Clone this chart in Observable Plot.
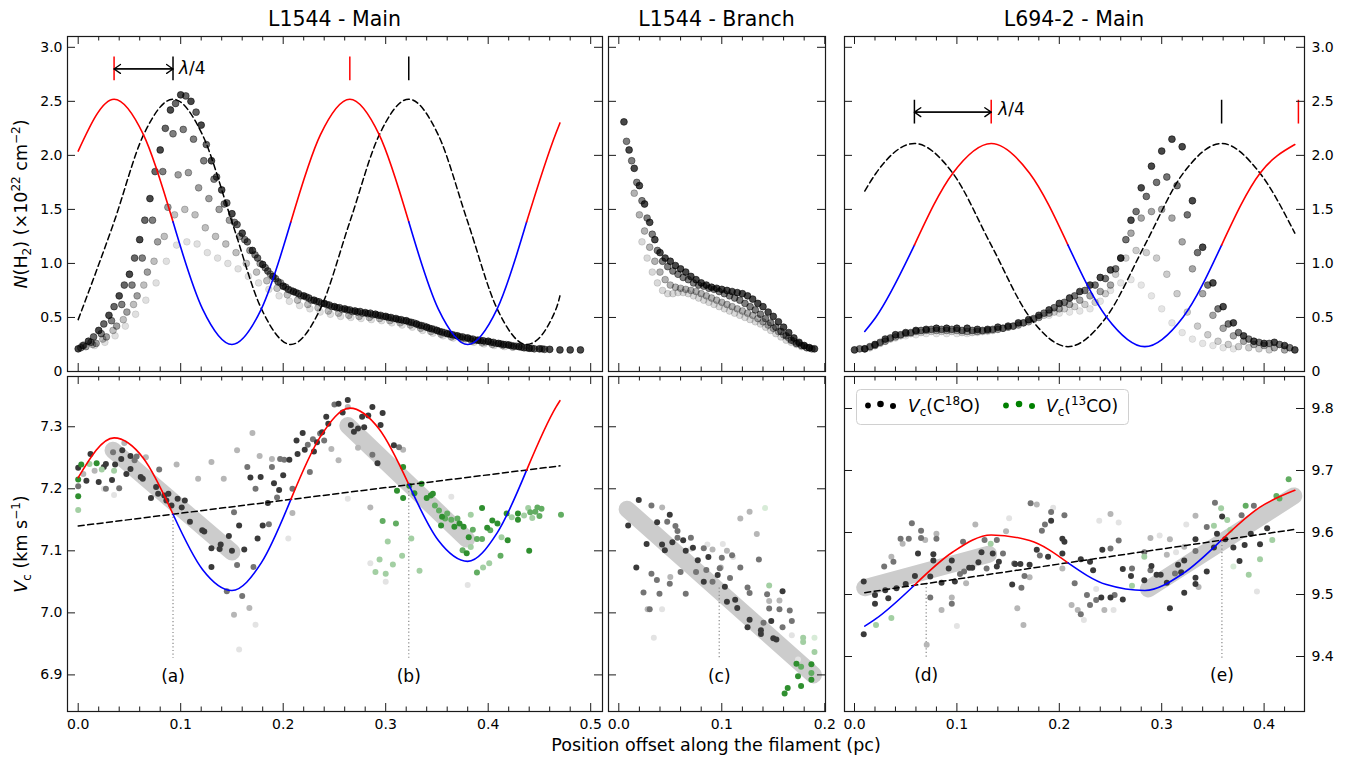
<!DOCTYPE html>
<html><head><meta charset="utf-8">
<script src="https://cdn.jsdelivr.net/npm/d3@7"></script>
<script src="https://cdn.jsdelivr.net/npm/@observablehq/plot@0.6"></script>
<style>
body{margin:0;background:#fff}
#fig{position:relative;width:1359px;height:758px;font-family:"DejaVu Sans",sans-serif;overflow:hidden;background:#fff}
</style></head><body><div id="fig"></div>
<script>
// ---------------- DATA ----------------
const titles = ["L1544 - Main", "L1544 - Branch", "L694-2 - Main"];
const xMaj1 = [0, 0.1, 0.2, 0.3, 0.4, 0.5];
const xMaj2 = [0, 0.1, 0.2];
const xMaj3 = [0, 0.1, 0.2, 0.3, 0.4];
const yMajTop = [0, 0.5, 1.0, 1.5, 2.0, 2.5, 3.0];
const yMajB12 = [6.9, 7.0, 7.1, 7.2, 7.3];
const yMajB3 = [9.4, 9.5, 9.6, 9.7, 9.8];

// N(H2) profiles
const n1a = [0.21,0.28,0.38,0.52,0.70,0.90,1.22,1.60,2.05,2.42,2.56,2.50,2.28,1.95,1.68,1.46,1.28,1.12,0.99,0.88,0.79,0.74,0.70,0.66,0.63,0.60,0.58,0.56,0.545,0.53,0.51,0.49,0.47,0.44,0.41,0.38,0.35,0.33,0.31,0.29,0.28,0.26,0.245,0.23,0.215,0.21,0.205,0.20,0.20,0.20];
const n1b = [0.24,0.32,0.44,0.60,0.80,1.05,1.40,1.85,2.25,2.48,2.55,2.40,2.10,1.80,1.56,1.36,1.20,1.05,0.93,0.83,0.76,0.72,0.68,0.645,0.615,0.59,0.57,0.555,0.54,0.52,0.50,0.48,0.455,0.425,0.395,0.365,0.34,0.32,0.30,0.285,0.27,0.25,0.235,0.22,0.21,0.205];
const n1c = [0.22,0.27,0.35,0.47,0.62,0.80,1.05,1.40,1.85,2.20,2.24,2.15,1.95,1.78,1.55,1.38,1.22,1.08,0.96,0.86,0.78,0.73,0.69,0.65,0.62,0.59,0.57,0.55,0.535,0.52,0.50,0.48,0.46,0.43,0.40,0.37,0.345,0.32,0.30,0.285,0.27,0.255,0.24,0.225,0.215,0.21];
const n1d = [0.23,0.26,0.32,0.42,0.55,0.70,0.92,1.20,1.52,1.82,1.84,1.70,1.60,1.50,1.40,1.25,1.12,1.00,0.90,0.82,0.75,0.70,0.66,0.63,0.60,0.575,0.555,0.54,0.525,0.51,0.49,0.47,0.45,0.42,0.39,0.36,0.335,0.31,0.29,0.275,0.26,0.25,0.235,0.22];
const n1e = [0.24,0.25,0.30,0.38,0.48,0.62,0.80,1.02,1.25,1.45,1.50,1.45,1.33,1.25,1.18,1.10,1.00,0.92,0.84,0.77,0.71,0.66,0.62,0.59,0.56,0.54,0.52,0.51,0.50,0.49,0.47,0.45,0.43,0.40,0.37,0.345,0.32,0.30,0.28,0.265,0.25,0.24,0.225];
const n1f = [0.25,0.24,0.27,0.33,0.42,0.53,0.66,0.82,1.02,1.17,1.20,1.18,1.10,1.05,1.00,0.95,0.88,0.82,0.76,0.70,0.65,0.61,0.58,0.55,0.53,0.51,0.50,0.49,0.48,0.47,0.45,0.43,0.41,0.38,0.355,0.33,0.31,0.29,0.27,0.255,0.24,0.23];

const n2a = [2.31,2.05,1.88,1.72,1.55,1.38,1.22,1.10,1.05,1.02,0.98,0.95,0.92,0.88,0.85,0.82,0.80,0.78,0.77,0.76,0.75,0.74,0.73,0.72,0.70,0.67,0.63,0.60,0.55,0.51,0.46,0.41,0.36,0.31,0.27,0.24,0.22,0.21];
const n2b = [2.13,1.95,1.75,1.58,1.42,1.27,1.12,1.02,0.97,0.93,0.90,0.87,0.85,0.82,0.80,0.79,0.77,0.76,0.74,0.72,0.70,0.68,0.66,0.63,0.60,0.57,0.53,0.49,0.45,0.41,0.37,0.33,0.29,0.26,0.24,0.22,0.21];
const n2c = [1.65,1.45,1.30,1.15,1.02,0.92,0.85,0.80,0.78,0.77,0.76,0.75,0.74,0.72,0.70,0.68,0.66,0.64,0.62,0.60,0.58,0.56,0.54,0.52,0.49,0.46,0.43,0.40,0.37,0.34,0.31,0.28,0.26,0.24,0.22];
const n2d = [1.20,1.05,0.92,0.82,0.75,0.72,0.72,0.73,0.73,0.72,0.70,0.68,0.66,0.64,0.62,0.60,0.58,0.56,0.54,0.52,0.50,0.48,0.46,0.44,0.41,0.38,0.35,0.32,0.29,0.27,0.25,0.23];

const n3a = [0.20,0.21,0.25,0.30,0.34,0.36,0.38,0.39,0.40,0.40,0.40,0.40,0.39,0.39,0.41,0.42,0.45,0.48,0.52,0.57,0.63,0.68,0.74,0.80,0.87,0.94,1.05,1.40,1.70,1.90,2.04,2.15,2.08,1.58,1.15,0.82,0.60,0.45,0.33,0.28,0.26,0.27,0.24,0.20];
const n3b = [0.21,0.23,0.27,0.31,0.34,0.36,0.38,0.39,0.39,0.39,0.38,0.38,0.38,0.39,0.40,0.42,0.45,0.49,0.54,0.59,0.64,0.70,0.75,0.80,0.86,0.95,1.22,1.48,1.62,1.75,1.80,1.72,1.45,1.10,0.80,0.58,0.44,0.36,0.30,0.27,0.26,0.25,0.22];
const n3c = [0.21,0.24,0.28,0.32,0.35,0.37,0.38,0.38,0.38,0.38,0.37,0.37,0.38,0.39,0.41,0.43,0.46,0.50,0.54,0.58,0.62,0.66,0.70,0.74,0.80,1.05,1.28,1.42,1.48,1.50,1.42,1.20,0.95,0.72,0.52,0.40,0.33,0.28,0.25,0.24,0.22,0.20];
const n3d = [0.22,0.26,0.30,0.33,0.35,0.36,0.37,0.37,0.37,0.36,0.36,0.37,0.38,0.40,0.42,0.45,0.48,0.52,0.55,0.58,0.60,0.62,0.64,0.72,0.90,1.05,1.12,1.10,1.05,0.90,0.72,0.55,0.42,0.34,0.28,0.25,0.23,0.22,0.21,0.20];
const n3e = [0.24,0.28,0.31,0.33,0.34,0.35,0.35,0.35,0.35,0.35,0.36,0.37,0.39,0.41,0.44,0.47,0.50,0.52,0.54,0.55,0.56,0.58,0.65,0.75,0.82,0.85,0.80,0.70,0.58,0.45,0.36,0.30,0.26,0.24,0.22,0.21];

// profile sampling: [values, x start, x step, opacity]
const prof1 = [[n1f,0.006,0.01,0.12],[n1e,0.004,0.01,0.25],[n1d,0.0075,0.01,0.38],[n1c,0.0025,0.01,0.5],[n1b,0.005,0.01,0.6],[n1a,0,0.01,0.72]];
const prof2 = [[n2d,0.0225,0.005,0.15],[n2c,0.015,0.005,0.3],[n2b,0.0075,0.005,0.5],[n2a,0.005,0.005,0.72]];
const prof3 = [[n3e,0.02,0.01,0.1],[n3d,0.015,0.01,0.2],[n3c,0.01,0.01,0.35],[n3b,0.005,0.01,0.55],[n3a,0,0.01,0.72]];

// sinusoid fits
const sx1 = [0,0.035,0.06375,0.0925,0.12125,0.15,0.17875,0.2075,0.23625,0.265,0.29375,0.3225,0.35125,0.38,0.40875,0.4375,0.46625,0.47];
const nRed1 = [2.04,2.52,2.19,1.385,0.58,0.25,0.58,1.385,2.19,2.52,2.19,1.385,0.58,0.25,0.58,1.385,2.21,2.30];
const nDash1 = [0.48,1.385,2.19,2.52,2.19,1.385,0.58,0.25,0.58,1.385,2.19,2.52,2.19,1.385,0.58,0.25,0.58,0.70];
const vSin1 = [7.218,7.282,7.249,7.159,7.070,7.036,7.081,7.183,7.284,7.330,7.296,7.207,7.117,7.083,7.129,7.230,7.332,7.342];
const cuts1 = [0.0925,0.2075,0.3225,0.4375];
const segCol1 = ["red","blue","red","blue","red"];
const trendX1 = [0, 0.47], trendV1 = [7.14, 7.237];

const sx3 = [0.01,0.021,0.0585,0.096,0.1335,0.171,0.2085,0.246,0.2835,0.321,0.3585,0.396,0.43];
const nRed3 = [0.371,0.505,1.17,1.835,2.11,1.835,1.17,0.505,0.23,0.505,1.17,1.835,2.10];
const nDash3 = [1.67,1.835,2.11,1.835,1.17,0.505,0.23,0.505,1.17,1.835,2.11,1.835,1.28];
const vSin3 = [9.449,9.461,9.515,9.5685,9.596,9.587,9.551,9.516,9.5065,9.534,9.588,9.641,9.668];
const cuts3 = [0.0585,0.2085,0.3585];
const segCol3 = ["blue","red","blue","red"];
const trendX3 = [0.01, 0.43], trendV3 = [9.503, 9.605];

// lambda/4 markers
const mk1 = [{x:0.035,y1:2.69,y2:2.91,c:"red"},{x:0.0925,y1:2.69,y2:2.91,c:"black"},{x:0.265,y1:2.69,y2:2.91,c:"red"},{x:0.3225,y1:2.69,y2:2.91,c:"black"}];
const arr1 = [{x1:0.035,x2:0.0925,y:2.80}];
const lam1 = [{x:0.0925,y:2.80,t:"λ/4"}];
const mk3 = [{x:0.0585,y1:2.29,y2:2.51,c:"black"},{x:0.1335,y1:2.29,y2:2.51,c:"red"},{x:0.3585,y1:2.29,y2:2.51,c:"black"},{x:0.4335,y1:2.29,y2:2.51,c:"red"}];
const arr3 = [{x1:0.0585,x2:0.1335,y:2.40}];
const lam3 = [{x:0.1335,y:2.42,t:"λ/4"}];

// velocity points [x, Vc, shade 1=dark..4=very light]
const vc1 = [[0,7.234,1],[0,7.204,2],[0.005,7.224,3],[0.008,7.213,1],[0.012,7.256,1],[0.016,7.229,3],[0.020,7.211,1],[0.025,7.235,1],[0.027,7.240,1],[0.027,7.200,2],[0.033,7.214,1],[0.036,7.239,1],[0.034,7.259,2],[0.040,7.201,2],[0.043,7.262,1],[0.042,7.248,1],[0.045,7.274,3],[0.047,7.224,1],[0.051,7.232,1],[0.051,7.253,1],[0.055,7.246,2],[0.057,7.252,2],[0.061,7.219,1],[0.063,7.216,1],[0.066,7.251,3],[0.071,7.185,1],[0.076,7.203,1],[0.079,7.231,2],[0.078,7.192,1],[0.084,7.189,1],[0.088,7.192,1],[0.086,7.181,1],[0.091,7.173,1],[0.097,7.184,1],[0.096,7.239,3],[0.101,7.170,1],[0.104,7.181,1],[0.109,7.147,1],[0.117,7.216,3],[0.121,7.133,1],[0.123,7.131,1],[0.130,7.243,3],[0.130,7.104,1],[0.130,7.074,1],[0.138,7.103,1],[0.139,7.110,1],[0.142,7.216,3],[0.147,7.124,1],[0.150,7.100,1],[0.152,7.162,2],[0.155,7.262,3],[0.157,7.141,1],[0.155,7.077,2],[0.145,7.035,2],[0.152,6.997,3],[0.160,7.027,2],[0.162,7.102,1],[0.157,6.941,4],[0.167,7.008,3],[0.165,7.235,2],[0.168,7.218,1],[0.170,7.290,3],[0.173,7.200,2],[0.171,7.074,2],[0.173,6.981,4],[0.175,7.120,1],[0.178,7.219,1],[0.177,7.253,3],[0.180,7.141,1],[0.185,7.177,1],[0.186,7.143,2],[0.189,7.235,2],[0.191,7.209,1],[0.189,7.248,3],[0.194,7.186,2],[0.196,7.198,1],[0.197,7.248,2],[0.200,7.222,1],[0.201,7.247,2],[0.206,7.247,1],[0.209,7.161,3],[0.209,7.200,2],[0.213,7.278,1],[0.214,7.256,1],[0.219,7.290,1],[0.221,7.263,1],[0.224,7.271,2],[0.226,7.227,2],[0.229,7.280,2],[0.230,7.260,1],[0.233,7.275,1],[0.236,7.289,2],[0.238,7.291,1],[0.240,7.278,2],[0.242,7.316,1],[0.244,7.305,1],[0.247,7.264,3],[0.250,7.336,2],[0.254,7.337,1],[0.254,7.246,3],[0.258,7.323,1],[0.263,7.332,3],[0.263,7.343,1],[0.263,7.184,4],[0.266,7.303,1],[0.269,7.292,1],[0.273,7.297,1],[0.273,7.266,3],[0.277,7.316,1],[0.279,7.299,1],[0.283,7.318,1],[0.287,7.332,1],[0.285,7.170,3],[0.287,7.255,2],[0.292,7.241,1],[0.295,7.303,1],[0.297,7.322,1],[0.308,7.270,1],[0.313,7.267,2],[0.317,7.263,3],[0.364,7.187,4],[0.380,7.045,4],[0.285,7.080,4],[0.300,7.050,4],[0.205,7.120,4],[0.025,7.200,4],[0.035,7.190,4]];
const co1 = [[0,7.215,1],[0,7.188,1],[0,7.166,3],[0.003,7.239,1],[0.011,7.240,3],[0.018,7.241,1],[0.023,7.231,3],[0.035,7.229,3],[0.317,7.235,1],[0.311,7.197,1],[0.317,7.185,1],[0.323,7.205,1],[0.328,7.193,1],[0.335,7.208,1],[0.340,7.185,1],[0.344,7.189,1],[0.346,7.192,1],[0.297,7.148,2],[0.310,7.144,2],[0.302,7.115,3],[0.325,7.120,3],[0.316,7.092,3],[0.294,7.086,3],[0.307,7.078,3],[0.290,7.066,3],[0.300,7.063,3],[0.333,7.068,3],[0.348,7.173,2],[0.352,7.165,2],[0.354,7.141,1],[0.358,7.152,2],[0.364,7.150,2],[0.367,7.139,1],[0.370,7.152,2],[0.372,7.144,1],[0.376,7.139,1],[0.381,7.122,1],[0.383,7.158,3],[0.385,7.134,2],[0.379,7.096,1],[0.375,7.101,2],[0.383,7.106,3],[0.389,7.119,2],[0.394,7.119,2],[0.394,7.169,1],[0.399,7.137,1],[0.402,7.133,2],[0.404,7.149,1],[0.409,7.144,1],[0.413,7.122,3],[0.419,7.117,1],[0.412,7.092,2],[0.395,7.073,3],[0.401,7.080,3],[0.389,7.065,2],[0.418,7.160,1],[0.423,7.154,3],[0.429,7.160,1],[0.429,7.150,1],[0.435,7.157,3],[0.439,7.169,3],[0.441,7.162,2],[0.448,7.170,2],[0.446,7.163,2],[0.450,7.156,2],[0.452,7.168,2],[0.440,7.100,1],[0.471,7.158,2],[0.443,7.153,3],[0.360,7.160,2],[0.355,7.155,1]];

const vc2 = [[0.0194,7.182,1],[0.0091,7.141,1],[0.0317,7.173,2],[0.0421,7.170,3],[0.0372,7.146,1],[0.0495,7.158,1],[0.047,7.147,2],[0.055,7.140,2],[0.057,7.132,2],[0.052,7.114,1],[0.042,7.110,1],[0.0447,7.101,1],[0.027,7.111,1],[0.057,7.121,2],[0.0625,7.117,1],[0.065,7.100,1],[0.070,7.121,2],[0.072,7.105,1],[0.0767,7.085,1],[0.0825,7.104,2],[0.087,7.090,1],[0.091,7.102,3],[0.100,7.089,2],[0.105,7.100,3],[0.110,7.093,2],[0.017,7.073,1],[0.0317,7.063,2],[0.037,7.053,2],[0.024,7.033,2],[0.030,7.006,2],[0.0395,7.031,2],[0.0495,7.047,2],[0.060,7.066,2],[0.065,7.031,2],[0.075,7.066,2],[0.085,7.069,2],[0.0825,7.050,1],[0.091,7.050,2],[0.096,7.061,1],[0.098,7.072,2],[0.103,7.042,1],[0.108,7.056,2],[0.105,7.018,1],[0.113,7.021,1],[0.115,7.008,1],[0.118,7.073,2],[0.125,7.041,2],[0.127,7.032,2],[0.127,6.989,1],[0.125,6.977,1],[0.138,6.972,1],[0.138,6.966,1],[0.1405,6.984,2],[0.136,7.086,2],[0.144,7.030,2],[0.146,7.007,2],[0.148,6.987,1],[0.150,6.959,1],[0.153,6.957,1],[0.159,7.035,1],[0.156,7.006,2],[0.159,6.977,2],[0.166,7.004,2],[0.168,6.987,2],[0.134,7.127,3],[0.127,7.163,3],[0.118,7.152,3],[0.146,7.019,3],[0.156,7.020,3],[0.168,6.964,4],[0.050,7.058,3],[0.099,7.073,3],[0.111,7.090,4],[0.034,6.960,4],[0.028,7.006,3],[0.042,7.006,4],[0.086,7.110,4],[0.101,7.111,4],[0.070,7.103,4],[0.174,6.925,4]];
const co2 = [[0.1725,6.918,1],[0.177,6.913,2],[0.187,6.917,1],[0.174,6.898,1],[0.187,6.903,2],[0.187,6.892,1],[0.177,6.882,1],[0.164,6.879,1],[0.161,6.870,1],[0.179,6.960,3],[0.190,6.960,4],[0.190,6.937,3],[0.179,6.953,3],[0.146,7.044,3],[0.142,7.169,4]];

const vc3 = [[0.009,9.521,1],[0.009,9.436,1],[0.020,9.499,1],[0.020,9.485,1],[0.030,9.507,1],[0.033,9.494,1],[0.029,9.545,2],[0.036,9.561,3],[0.038,9.553,2],[0.041,9.510,1],[0.045,9.590,2],[0.047,9.582,3],[0.050,9.517,1],[0.053,9.590,2],[0.056,9.615,2],[0.059,9.530,1],[0.062,9.566,1],[0.065,9.603,2],[0.065,9.591,2],[0.069,9.588,3],[0.0705,9.419,3],[0.074,9.529,1],[0.074,9.495,2],[0.077,9.565,1],[0.077,9.555,1],[0.080,9.590,2],[0.080,9.598,3],[0.085,9.475,3],[0.085,9.519,1],[0.092,9.542,1],[0.095,9.555,1],[0.095,9.485,2],[0.095,9.495,3],[0.098,9.521,1],[0.100,9.449,4],[0.103,9.533,2],[0.106,9.585,2],[0.107,9.537,2],[0.109,9.518,3],[0.112,9.543,1],[0.115,9.543,1],[0.118,9.613,3],[0.121,9.552,1],[0.124,9.568,1],[0.127,9.588,2],[0.129,9.542,2],[0.135,9.566,1],[0.139,9.588,2],[0.139,9.545,1],[0.141,9.553,1],[0.145,9.566,2],[0.148,9.602,3],[0.151,9.623,4],[0.154,9.516,1],[0.156,9.550,2],[0.157,9.549,1],[0.159,9.478,3],[0.162,9.549,1],[0.163,9.511,2],[0.165,9.451,3],[0.166,9.530,2],[0.171,9.548,1],[0.171,9.528,3],[0.172,9.647,2],[0.178,9.645,3],[0.178,9.572,1],[0.181,9.563,2],[0.183,9.603,2],[0.186,9.613,2],[0.189,9.561,1],[0.192,9.633,2],[0.192,9.619,1],[0.194,9.640,4],[0.203,9.590,1],[0.203,9.542,3],[0.205,9.628,2],[0.205,9.585,1],[0.203,9.566,1],[0.212,9.483,3],[0.215,9.518,2],[0.218,9.475,3],[0.221,9.468,2],[0.221,9.557,1],[0.224,9.459,4],[0.227,9.499,2],[0.230,9.553,1],[0.230,9.483,2],[0.233,9.539,1],[0.236,9.491,2],[0.236,9.509,4],[0.239,9.619,4],[0.241,9.495,1],[0.242,9.572,1],[0.244,9.475,3],[0.250,9.630,3],[0.250,9.574,2],[0.250,9.495,1],[0.253,9.475,4],[0.254,9.499,2],[0.258,9.587,2],[0.258,9.616,4],[0.262,9.492,1],[0.262,9.541,1],[0.270,9.530,1],[0.271,9.542,2],[0.283,9.523,1],[0.283,9.568,2],[0.289,9.591,3],[0.289,9.539,2],[0.290,9.546,1],[0.295,9.532,1],[0.298,9.595,4],[0.299,9.532,1],[0.305,9.519,1],[0.305,9.564,3],[0.308,9.478,1],[0.308,9.589,3],[0.313,9.534,2],[0.314,9.568,4],[0.316,9.548,1],[0.319,9.536,1],[0.322,9.503,1],[0.322,9.555,1],[0.322,9.577,3],[0.324,9.613,4],[0.333,9.517,1],[0.333,9.527,1],[0.333,9.570,2],[0.333,9.589,1],[0.333,9.627,3],[0.336,9.512,3],[0.344,9.537,1],[0.344,9.609,2],[0.351,9.576,1],[0.352,9.648,2],[0.354,9.598,1],[0.359,9.626,1],[0.362,9.589,1],[0.370,9.576,1],[0.376,9.554,1],[0.378,9.628,2],[0.381,9.580,1],[0.387,9.598,1],[0.390,9.643,2],[0.396,9.581,1],[0.393,9.505,4],[0.403,9.607,1]];
const co3 = [[0.021,9.451,3],[0.036,9.462,3],[0.133,9.582,3],[0.271,9.514,3],[0.283,9.561,3],[0.351,9.611,3],[0.358,9.639,3],[0.364,9.620,3],[0.367,9.604,3],[0.370,9.545,4],[0.382,9.643,2],[0.385,9.532,3],[0.396,9.557,3],[0.408,9.588,3],[0.412,9.659,2],[0.415,9.655,2],[0.424,9.686,2]];

// velocity-gradient bands, dotted guides and labels
const band1 = [{x1:0.034,y1:7.262,x2:0.150,y2:7.098},{x1:0.263,y1:7.302,x2:0.379,y2:7.119}];
const band2 = [{x1:0.0081,y1:7.167,x2:0.189,y2:6.900}];
const band3 = [{x1:0.010,y1:9.511,x2:0.131,y2:9.565},{x1:0.287,y1:9.509,x2:0.429,y2:9.659}];
const guide1 = [{x:0.0925,y1:7.160,y2:6.927},{x:0.3225,y1:7.207,y2:6.927}];
const guide2 = [{x:0.0975,y1:7.040,y2:6.925}];
const guide3 = [{x:0.070,y1:9.517,y2:9.397},{x:0.3588,y1:9.585,y2:9.397}];
const lab1 = [{x:0.0925,y:6.898,t:"(a)"},{x:0.3225,y:6.898,t:"(b)"}];
const lab2 = [{x:0.0975,y:6.898,t:"(c)"}];
const lab3 = [{x:0.070,y:9.369,t:"(d)"},{x:0.3588,y:9.369,t:"(e)"}];

// ---------------- DRAWING ----------------
const greyC = {1:"#3a3a3a",2:"#747474",3:"#b6b6b6",4:"#e3e3e3"};
const greenC = {1:"#2f8f2f",2:"#62ad62",3:"#a3cfa3",4:"#d7ebd7"};
const fig = document.getElementById("fig");
const ML = 60, MR = 60, MT = 20, MB = 40;
const TL = 8, tl = 4.5;

function minor(hi){ return d3.range(0, hi + 1e-9, 0.02).filter(v => Math.abs(v*10 - Math.round(v*10)) > 1e-6); }
function profiles(list){ return list.flatMap(([vals,x0,dx,a]) => vals.map((v,i) => ({x: x0 + i*dx, y: v, a}))); }
function pts(arr, pal){ return arr.map(([x,y,s]) => ({x, y, s, c: pal[s]})).sort((p,q) => q.s - p.s); }
function split(xs, ys, cuts, cols){
  const out = [];
  xs.forEach((x,i) => {
    const k = cuts.filter(c => c < x - 1e-9).length;
    out.push({x, y: ys[i], z: k, c: cols[k]});
    if (cuts.some(c => Math.abs(c - x) < 1e-9)) out.push({x, y: ys[i], z: k+1, c: cols[k+1]});
  });
  return out;
}
function xy(xs, ys){ return xs.map((x,i) => ({x, y: ys[i]})); }
function ticks(xMaj, xMin, yMaj, fw, fh){
  const s = {stroke:"#1a1a1a", strokeWidth:1};
  return [
    Plot.tickX(xMaj, {x:d=>d, insetTop: fh-TL, ...s}),
    Plot.tickX(xMaj, {x:d=>d, insetBottom: fh-TL, ...s}),
    Plot.tickX(xMin, {x:d=>d, insetTop: fh-tl, ...s}),
    Plot.tickX(xMin, {x:d=>d, insetBottom: fh-tl, ...s}),
    Plot.tickY(yMaj, {y:d=>d, insetRight: fw-TL, ...s}),
    Plot.tickY(yMaj, {y:d=>d, insetLeft: fw-TL, ...s}),
    Plot.frame({stroke:"#1a1a1a", strokeWidth:1.2})
  ];
}
function place(fx, fy, fw, fh, opts){
  const svg = Plot.plot({
    width: fw + ML + MR, height: fh + MT + MB,
    marginLeft: ML, marginRight: MR, marginTop: MT, marginBottom: MB,
    opacity: {type:"identity"}, color: {type:"identity"},
    style: {background:"transparent", overflow:"visible", fontFamily:"DejaVu Sans, sans-serif"},
    ...opts
  });
  svg.style.position = "absolute";
  svg.style.left = (fx - ML) + "px";
  svg.style.top = (fy - MT) + "px";
  svg.style.maxWidth = "none";
  svg.querySelectorAll("text").forEach(t => {
    if (t.textContent === "λ/4") t.innerHTML = '<tspan font-style="italic">λ</tspan>/4';
  });
  fig.appendChild(svg);
}
const fmtN = d => d === 0 ? "0" : d.toFixed(1);
const fmt1 = d => d.toFixed(1);
const axY = (anchor, tks, f) => Plot.axisY({anchor, ticks: tks, tickSize: 0, tickPadding: anchor === "left" ? 5 : 7, tickFormat: f, fontSize: 14, label: null});
const axX = (tks) => Plot.axisX({anchor:"bottom", ticks: tks, tickSize: 0, tickPadding: 8, tickFormat: fmt1, fontSize: 14, label: null});
const topDots = (list) => Plot.dot(profiles(list), {x:"x", y:"y", r:3.4, fill:"black", fillOpacity:"a", stroke:"black", strokeOpacity:"a", strokeWidth:0.8});
const sine = (xs, ys, cuts, cols) => Plot.line(split(xs, ys, cuts, cols), {x:"x", y:"y", z:"z", stroke:"c", strokeWidth:1.6, curve:"monotone-x"});
const dashed = (xs, ys) => Plot.line(xy(xs, ys), {x:"x", y:"y", stroke:"black", strokeWidth:1.5, strokeDasharray:"6,3.5", curve:"monotone-x"});
const markers = (mk, arr, lam, dx) => [
  Plot.ruleX(mk, {x:"x", y1:"y1", y2:"y2", stroke:"c", strokeWidth:1.5}),
  Plot.arrow(arr, {x1:"x1", x2:"x2", y1:"y", y2:"y", stroke:"black", strokeWidth:1.3, headLength:9, headAngle:70}),
  Plot.arrow(arr, {x1:"x2", x2:"x1", y1:"y", y2:"y", stroke:"black", strokeWidth:1.3, headLength:9, headAngle:70}),
  Plot.text(lam, {x:"x", y:"y", text:"t", dx, textAnchor:"start", fontSize:17})
];
const bottomMarks = (bands, guides, vc, co, labs) => [
  Plot.link(bands, {x1:"x1", y1:"y1", x2:"x2", y2:"y2", stroke:"#cccccc", strokeWidth:17, strokeLinecap:"round"}),
  Plot.ruleX(guides, {x:"x", y1:"y1", y2:"y2", stroke:"#888", strokeWidth:1.2, strokeDasharray:"1.2,2.4"}),
  Plot.dot(pts(vc, greyC), {x:"x", y:"y", r:3, fill:"c"}),
  Plot.dot(pts(co, greenC), {x:"x", y:"y", r:3, fill:"c"}),
  Plot.text(labs, {x:"x", y:"y", text:"t", fontSize:17})
];

// frames
const F1 = {fx:67, fw:535, dom:[-0.01044, 0.51151]};
const F2 = {fx:608, fw:217, dom:[-0.0100, 0.2007]};
const F3 = {fx:844, fw:460, dom:[-0.00977, 0.43945]};
const TOP = {fy:36, fh:335, dom:[0, 3.1]};
const BOT = {fy:376, fh:335};

// --- top row
place(F1.fx, TOP.fy, F1.fw, TOP.fh, {
  x:{domain:F1.dom, axis:null}, y:{domain:TOP.dom},
  marks:[topDots(prof1), dashed(sx1, nDash1), sine(sx1, nRed1, cuts1, segCol1), ...markers(mk1, arr1, lam1, 6),
    ...ticks(xMaj1, minor(0.5), yMajTop, F1.fw, TOP.fh), axY("left", yMajTop, fmtN)]
});
place(F2.fx, TOP.fy, F2.fw, TOP.fh, {
  x:{domain:F2.dom, axis:null}, y:{domain:TOP.dom, axis:null},
  marks:[topDots(prof2), ...ticks(xMaj2, minor(0.2), yMajTop, F2.fw, TOP.fh)]
});
place(F3.fx, TOP.fy, F3.fw, TOP.fh, {
  x:{domain:F3.dom, axis:null}, y:{domain:TOP.dom},
  marks:[topDots(prof3), dashed(sx3, nDash3), sine(sx3, nRed3, cuts3, segCol3), ...markers(mk3, arr3, lam3, 7),
    ...ticks(xMaj3, minor(0.43), yMajTop, F3.fw, TOP.fh), axY("right", yMajTop, fmtN)]
});
// --- bottom row
place(F1.fx, BOT.fy, F1.fw, BOT.fh, {
  x:{domain:F1.dom}, y:{domain:[6.841, 7.381]},
  marks:[...bottomMarks(band1, guide1, vc1, co1, lab1), dashed(trendX1, trendV1), sine(sx1, vSin1, cuts1, segCol1),
    ...ticks(xMaj1, minor(0.5), yMajB12, F1.fw, BOT.fh), axY("left", yMajB12, fmt1), axX(xMaj1)]
});
place(F2.fx, BOT.fy, F2.fw, BOT.fh, {
  x:{domain:F2.dom}, y:{domain:[6.841, 7.381], axis:null},
  marks:[...bottomMarks(band2, guide2, vc2, co2, lab2),
    ...ticks(xMaj2, minor(0.2), yMajB12, F2.fw, BOT.fh), axX(xMaj2)]
});
place(F3.fx, BOT.fy, F3.fw, BOT.fh, {
  x:{domain:F3.dom}, y:{domain:[9.3113, 9.8516]},
  marks:[...bottomMarks(band3, guide3, vc3, co3, lab3), dashed(trendX3, trendV3), sine(sx3, vSin3, cuts3, segCol3),
    ...ticks(xMaj3, minor(0.43), yMajB3, F3.fw, BOT.fh), axY("right", yMajB3, fmt1), axX(xMaj3)]
});

// --- titles, axis labels, legend
const ns = "http://www.w3.org/2000/svg";
const ov = document.createElementNS(ns, "svg");
ov.setAttribute("width", 1359); ov.setAttribute("height", 758);
ov.setAttribute("style", "position:absolute;left:0;top:0;font-family:'DejaVu Sans',sans-serif");
const tx = [334.5, 716.5, 1074];
ov.innerHTML = titles.map((t,i) => `<text x="${tx[i]}" y="26" text-anchor="middle" font-size="20.5">${t}</text>`).join("") +
 `<text x="716" y="751" text-anchor="middle" font-size="17.5">Position offset along the filament (pc)</text>
  <text transform="translate(27,204) rotate(-90)" text-anchor="middle" font-size="17.5"><tspan font-style="italic">N</tspan>(H<tspan font-size="12" dy="4">2</tspan><tspan dy="-4">) (×10</tspan><tspan font-size="12" dy="-7">22</tspan><tspan dy="7"> cm</tspan><tspan font-size="12" dy="-7">−2</tspan><tspan dy="7">)</tspan></text>
  <text transform="translate(27,544) rotate(-90)" text-anchor="middle" font-size="17.5"><tspan font-style="italic">V</tspan><tspan font-size="12" dy="4">c</tspan><tspan dy="-4"> (km s</tspan><tspan font-size="12" dy="-7">−1</tspan><tspan dy="7">)</tspan></text>
  <rect x="856.5" y="389.5" width="272" height="35" rx="4" fill="white" fill-opacity="0.85" stroke="#d0d0d0"/>
  <circle cx="868" cy="405.5" r="2.9" fill="black"/><circle cx="880.5" cy="404" r="3.3" fill="black"/><circle cx="893" cy="406" r="3" fill="black"/>
  <text x="908" y="412" font-size="17"><tspan font-style="italic">V</tspan><tspan font-size="12" dy="4">c</tspan><tspan dy="-4">(C</tspan><tspan font-size="12" dy="-7">18</tspan><tspan dy="7">O)</tspan></text>
  <circle cx="1006" cy="405.5" r="2.9" fill="green"/><circle cx="1019" cy="404" r="3.3" fill="green"/><circle cx="1032" cy="406" r="3" fill="green"/>
  <text x="1046" y="412" font-size="17"><tspan font-style="italic">V</tspan><tspan font-size="12" dy="4">c</tspan><tspan dy="-4">(</tspan><tspan font-size="12" dy="-7">13</tspan><tspan dy="7">CO)</tspan></text>`;
fig.appendChild(ov);
</script>
</body></html>
